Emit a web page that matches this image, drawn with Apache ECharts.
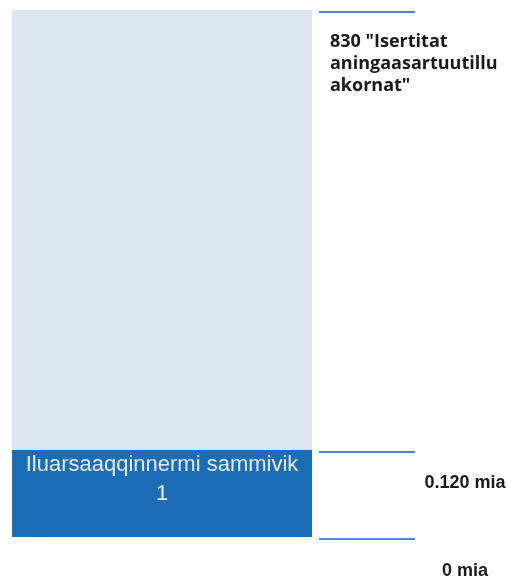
<!DOCTYPE html>
<html>
<head>
<meta charset="utf-8">
<script src="https://cdn.jsdelivr.net/npm/echarts@6/dist/echarts.min.js"></script>
<style>html,body{margin:0;padding:0;background:#fff}#c{width:511px;height:578px}</style>
</head>
<body>
<div id="c"></div>
<script>
// Data (schematic bar: values)
var categories = ['A'];
var stepValues = [0.120];          // dark segment: Iluarsaaqqinnermi sammivik 1
var restValues = [0.607];          // light segment (visual height up to 830 level)
var stepLabel = 'Iluarsaaqqinnermi sammivik\n1';
var levelValues = [0, 0.120, 0.727];
var levelLabels = ['0 mia', '0.120 mia', '830 "Isertitat\naningaasartuutillu\nakornat"'];

var chart = echarts.init(document.getElementById('c'));
var levelStyles = [
  {dy: 32, font: 'bold 18px "Liberation Sans", Arial', dx: 146, align: 'center', vAlign: 'middle', lh: 20},
  {dy: 31, font: 'bold 18px "Liberation Sans", Arial', dx: 146, align: 'center', vAlign: 'middle', lh: 20},
  {dy: 19, font: 'bold 18px "Open Sans", Lato, sans-serif', dx: 11, align: 'left', vAlign: 'top', lh: 22}
];
chart.setOption({
  animation: false,
  grid: {left: 12, right: 199, top: 10, bottom: 41},
  xAxis: {type: 'category', data: categories, show: false},
  yAxis: {type: 'value', min: 0, max: levelValues[2], show: false, splitLine: {show: false}},
  series: [
    {
      type: 'bar', stack: 's', data: stepValues, barWidth: '100%',
      itemStyle: {color: '#1b6db5'},
      label: {show: true, position: 'insideTop', distance: 0, formatter: stepLabel,
        color: '#e6ebf2', fontSize: 22, lineHeight: 29, fontFamily: '"Liberation Sans", Arial'}
    },
    {
      type: 'bar', stack: 's', data: restValues, barWidth: '100%',
      itemStyle: {color: '#dce4ee'}
    },
    {
      type: 'custom',
      data: levelValues.map(function (v, i) { return [0, v, i]; }),
      renderItem: function (params, api) {
        var i = api.value(2);
        var p = api.coord([0, api.value(1)]);
        var w = api.size([1, 0])[0];
        var right = p[0] + w / 2;
        var x0 = right + 7, x1 = right + 103;
        var y = Math.round(p[1]) + 2;
        var st = levelStyles[i];
        return {
          type: 'group',
          children: [
            {type: 'line', shape: {x1: x0, y1: y, x2: x1, y2: y},
              style: {stroke: '#5b86c6', lineWidth: 2}},
            {type: 'text', x: x0 + st.dx, y: y + st.dy,
              style: {text: levelLabels[i], font: st.font, fill: '#1a1a1a',
                align: st.align, verticalAlign: st.vAlign, lineHeight: st.lh}}
          ]
        };
      }
    }
  ]
});
</script>
</body>
</html>
